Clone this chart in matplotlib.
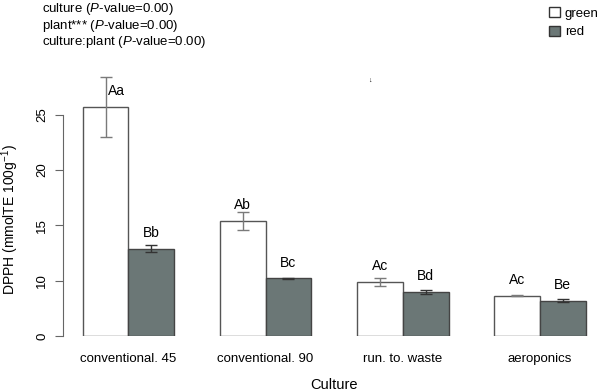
import numpy as np
import matplotlib
matplotlib.use("Agg")
import matplotlib.pyplot as plt
from matplotlib.patches import Patch

plt.rcParams['font.family'] = ['Liberation Sans', 'DejaVu Sans']
plt.rcParams['mathtext.fontset'] = 'custom'
plt.rcParams['mathtext.rm'] = 'Liberation Sans'
plt.rcParams['mathtext.it'] = 'Liberation Sans:italic'

# data
cultures = ["conventional. 45", "conventional. 90", "run. to. waste", "aeroponics"]
green_mean = [25.7, 15.4, 9.9, 8.65]
green_err = [2.7, 0.8, 0.36, 0.05]
red_mean = [12.9, 10.2, 9.0, 8.2]
red_err = [0.3, 0.05, 0.2, 0.1]
green_letters = ["Aa", "Ab", "Ac", "Ac"]
red_letters = ["Bb", "Bc", "Bd", "Be"]
ytick_vals = [5, 10, 15, 20, 25]
ytick_labels = ["0", "10", "15", "20", "25"]
stats_lines = ["culture ($P$-value=0.00)",
               "plant*** ($P$-value=0.00)",
               "culture:plant ($P$-value=0.00)"]

base = 5  # truncated axis, "0" label sits at 5

fig = plt.figure(figsize=(6, 3.91), dpi=100)
W, H = 600.0, 391.0
ax = fig.add_axes([62.6 / W, 55 / H, 543.2 / W, 276.75 / H])

idx = np.arange(len(cultures))
g_x = 3 * idx + 1.5
r_x = 3 * idx + 2.5

edge = "#555555"
red_fill = "#6b7776"
ax.bar(g_x, np.array(green_mean) - base, bottom=base, width=1.0,
       color="white", edgecolor=edge, linewidth=1.0)
ax.bar(r_x, np.array(red_mean) - base, bottom=base, width=1.0,
       color=red_fill, edgecolor="#444444", linewidth=1.0)

ax.errorbar(g_x, green_mean, yerr=green_err, fmt="none", ecolor="#7a7a7a",
            elinewidth=1.0, capsize=4.3, capthick=1.0)
ax.errorbar(r_x, red_mean, yerr=red_err, fmt="none", ecolor="#333333",
            elinewidth=1.0, capsize=4.3, capthick=1.0)

for xs, ms, es, labs in [(g_x, green_mean, green_err, green_letters),
                         (r_x, red_mean, red_err, red_letters)]:
    for x, m, e, lab in zip(xs, ms, es, labs):
        y = m + 1.4
        if y < m + e:
            ax.text(x + 0.05, y, lab, ha="left", va="center", fontsize=10)
        else:
            ax.text(x, y, lab, ha="center", va="center", fontsize=10)

ax.set_xlim(0.56, 12.44)
ax.set_ylim(base, 30)

for s in ["top", "right", "bottom"]:
    ax.spines[s].set_visible(False)
ax.spines["left"].set_bounds(5, 25)
ax.spines["left"].set_color("#666666")

ax.set_yticks(ytick_vals)
ax.set_yticklabels(ytick_labels, rotation=90, va="center", fontsize=9.5)
ax.tick_params(axis="y", length=5.5, color="#666666", pad=5)

ax.set_xticks(3 * idx + 2)
ax.set_xticklabels(cultures, fontsize=9.5)
ax.tick_params(axis="x", length=0, pad=12)

fig.text(334 / W, 1 - 385 / H, "Culture", ha="center", va="center", fontsize=10.5)
fig.text(10 / W, 1 - 220 / H, "DPPH (mmolTE 100g$^{-1}$)", rotation=90,
         ha="center", va="center", fontsize=10)

for i, line in enumerate(stats_lines):
    fig.text(42 / W, 1 - (9 + 16.5 * i) / H, line, ha="left", va="center", fontsize=9.5)

handles = [Patch(facecolor="white", edgecolor="#333333", label="green"),
           Patch(facecolor=red_fill, edgecolor="#333333", label="red")]
fig.legend(handles=handles, loc="upper left", bbox_to_anchor=(549 / W, 1 - 7 / H),
           frameon=False, fontsize=9.5, handlelength=0.8, handleheight=0.8,
           handletextpad=0.4, labelspacing=0.45, borderpad=0, borderaxespad=0)

fig.text(370 / W, 1 - 80 / H, "\u2193", ha="center", va="center", fontsize=5)

fig.savefig("out.png", dpi=100)
